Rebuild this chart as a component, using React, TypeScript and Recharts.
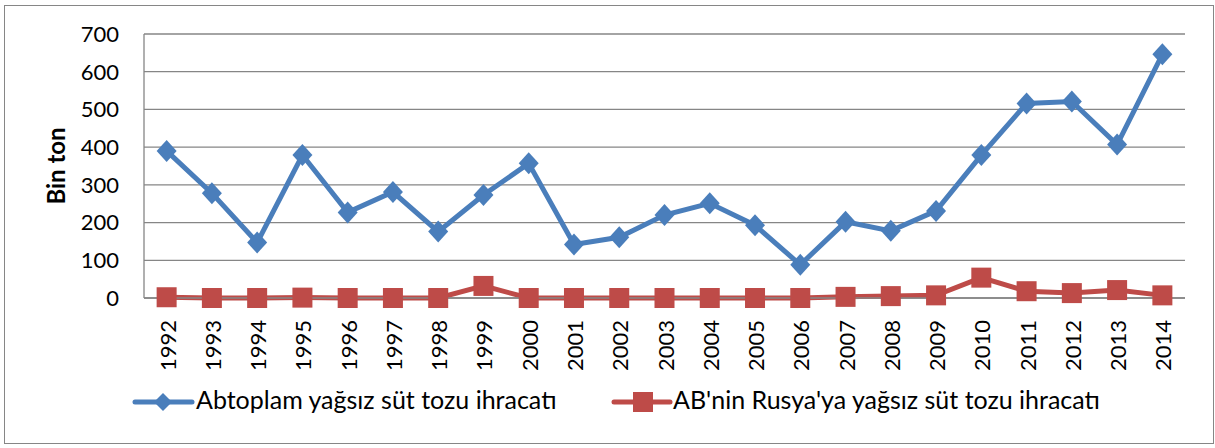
import { LineChart, Line, XAxis, YAxis, CartesianGrid } from 'recharts';

const years = [
  '1992', '1993', '1994', '1995', '1996', '1997', '1998', '1999', '2000', '2001', '2002', '2003',
  '2004', '2005', '2006', '2007', '2008', '2009', '2010', '2011', '2012', '2013', '2014',
];

// Total EU skimmed milk powder exports (thousand tonnes)
const totalExports = [
  390, 278, 147, 379, 227, 281, 176, 273, 357, 142, 161, 220,
  251, 193, 88, 202, 178, 231, 379, 516, 521, 407, 646,
];

// EU exports of SMP to Russia
const russiaExports = [
  2, 0, 0, 1, 0, 0, 0, 32, 0, 0, 0, 0,
  0, 0, 0, 3, 5, 7, 54, 18, 13, 21, 7,
];

const yTicks = [0, 100, 200, 300, 400, 500, 600, 700];

const totalName = 'Abtoplam yağsız süt tozu ihracatı';
const russiaName = "AB'nin Rusya'ya yağsız süt tozu ihracatı";

const BLUE = '#4A7EBB';
const RED = '#BE4B48';
const GRID = '#868686';
const FONT = 'Lato, "Open Sans", sans-serif';

const data = years.map((year, i) => ({
  year,
  total: totalExports[i],
  russia: russiaExports[i],
}));

const Diamond = ({ cx, cy }: { cx?: number; cy?: number }) => {
  if (cx == null || cy == null) return null;
  return (
    <path
      d={`M${cx},${cy - 11} L${cx + 10},${cy} L${cx},${cy + 11} L${cx - 10},${cy} Z`}
      fill={BLUE}
    />
  );
};

const Square = ({ cx, cy }: { cx?: number; cy?: number }) => {
  if (cx == null || cy == null) return null;
  return <rect x={cx - 10} y={cy - 10} width={20} height={20} fill={RED} />;
};

const YearTick = ({ x, y, payload }: { x?: number; y?: number; payload?: { value: string } }) => (
  <text
    x={0}
    y={0}
    transform={`translate(${(x ?? 0) + 9},${(y ?? 0) + 14}) rotate(-90)`}
    textAnchor="end"
    fontSize={22}
    fontFamily={FONT}
    fill="#000"
  >
    {payload?.value}
  </text>
);

const AxisTitle = ({ viewBox }: { viewBox?: { x: number; y: number; width: number; height: number } }) => {
  const cy = viewBox ? viewBox.y + viewBox.height / 2 : 166;
  return (
    <text
      x={0}
      y={0}
      transform={`translate(65,${cy}) rotate(-90)`}
      textAnchor="middle"
      fontSize={24}
      fontWeight="bold"
      fontFamily={FONT}
      fill="#000"
    >
      Bin ton
    </text>
  );
};

function ChartLegend() {
  return (
    <svg width={1215} height={40} style={{ position: 'absolute', left: 0, top: 382 }}>
      <line x1={135} y1={20} x2={192} y2={20} stroke={BLUE} strokeWidth={5} strokeLinecap="round" />
      <path d="M163,11 L172,20 L163,29 L154,20 Z" fill={BLUE} />
      <text x={196} y={27} fontSize={25} fontFamily={FONT} fill="#000">
        {totalName}
      </text>
      <line x1={614} y1={20} x2={670} y2={20} stroke={RED} strokeWidth={5} strokeLinecap="round" />
      <rect x={633} y={10} width={20} height={20} fill={RED} />
      <text x={673} y={27} fontSize={25} fontFamily={FONT} fill="#000">
        {russiaName}
      </text>
    </svg>
  );
}

export default function App() {
  return (
    <div style={{ position: 'absolute', left: 0, top: 0, width: 1215, height: 448, background: '#fff' }}>
      <style>{'body{margin:0}'}</style>
      <div
        style={{
          position: 'absolute',
          left: 4,
          top: 5,
          width: 1210,
          height: 439,
          border: `1px solid ${GRID}`,
          boxSizing: 'border-box',
        }}
      />
      <LineChart
        width={1215}
        height={448}
        data={data}
        margin={{ top: 34, right: 30, left: 0, bottom: 0 }}
        style={{ position: 'absolute', left: 0, top: 0 }}
      >
        <CartesianGrid horizontal vertical={false} stroke={GRID} strokeWidth={1.3} />
        <XAxis
          dataKey="year"
          scale="band"
          height={150}
          interval={0}
          tick={<YearTick />}
          tickLine={false}
          axisLine={{ stroke: GRID, strokeWidth: 1.3 }}
        />
        <YAxis
          width={144}
          domain={[0, 700]}
          ticks={yTicks}
          tickLine={false}
          axisLine={{ stroke: GRID, strokeWidth: 1.3 }}
          tickMargin={19}
          tick={{ fontSize: 22, fontFamily: FONT, fill: '#000' }}
          label={<AxisTitle />}
        />
        <Line
          dataKey="total"
          name={totalName}
          stroke={BLUE}
          strokeWidth={5}
          dot={<Diamond />}
          activeDot={false}
          isAnimationActive={false}
        />
        <Line
          dataKey="russia"
          name={russiaName}
          stroke={RED}
          strokeWidth={5}
          dot={<Square />}
          activeDot={false}
          isAnimationActive={false}
        />
      </LineChart>
      <ChartLegend />
    </div>
  );
}
